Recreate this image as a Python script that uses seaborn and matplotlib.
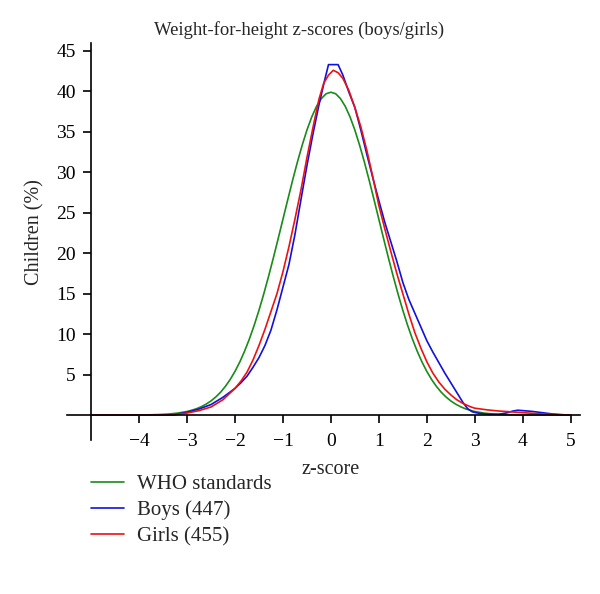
import numpy as np
import pandas as pd
import matplotlib
matplotlib.use("Agg")
import matplotlib.pyplot as plt
import seaborn as sns

# WHO standards
who_z = [-5, -4.0, -3.8, -3.6, -3.4, -3.2, -3.0, -2.9, -2.8, -2.7, -2.6, -2.5, -2.4, -2.3,
         -2.2, -2.1, -2.0, -1.9, -1.8, -1.7, -1.6, -1.5, -1.4, -1.3, -1.2, -1.1, -1.0,
         -0.9, -0.8, -0.7, -0.6, -0.5, -0.4, -0.3, -0.2, -0.1, 0.0,
         0.1, 0.2, 0.3, 0.4, 0.5, 0.6, 0.7, 0.8, 0.9, 1.0, 1.1, 1.2, 1.3, 1.4, 1.5,
         1.6, 1.7, 1.8, 1.9, 2.0, 2.1, 2.2, 2.3, 2.4, 2.5, 2.6, 2.7, 2.8, 2.9, 3.0,
         3.2, 3.4, 3.6, 3.8, 4.0, 5.0]
who_v = [0, 0.01, 0.03, 0.06, 0.12, 0.24, 0.44, 0.60, 0.79, 1.04, 1.36, 1.75, 2.24, 2.83,
         3.55, 4.40, 5.40, 6.56, 7.90, 9.40, 11.09, 12.95, 14.97, 17.14, 19.42, 21.79, 24.20,
         26.61, 28.97, 31.23, 33.32, 35.21, 36.83, 38.14, 39.10, 39.70, 39.89,
         39.70, 39.10, 38.14, 36.83, 35.21, 33.32, 31.23, 28.97, 26.61, 24.20, 21.79, 19.42,
         17.14, 14.97, 12.95, 11.09, 9.40, 7.90, 6.56, 5.40, 4.40, 3.55, 2.83, 2.24, 1.75,
         1.36, 1.04, 0.79, 0.60, 0.44, 0.24, 0.12, 0.06, 0.03, 0.01, 0]

# Boys (447)
boys_z = [-5, -4, -3.3, -3.0, -2.75, -2.5, -2.25, -2.0, -1.875, -1.75, -1.625, -1.5, -1.375,
          -1.25, -1.125, -1.0, -0.875, -0.75, -0.625, -0.5, -0.375, -0.25, -0.125, -0.05,
          0.15, 0.25, 0.375, 0.5, 0.625, 0.75, 0.875, 1.0, 1.125, 1.25, 1.375, 1.5, 1.625,
          1.75, 1.875, 2.0, 2.125, 2.25, 2.375, 2.5, 2.625, 2.75, 2.85, 2.95, 3.1, 3.3,
          3.5, 3.65, 3.8, 3.9, 4.0, 4.2, 4.4, 4.6, 4.8, 5.0]
boys_v = [0, 0, 0, 0.35, 0.75, 1.3, 2.2, 3.3, 4.0, 4.8, 5.9, 7.1, 8.6,
          10.5, 13.0, 15.8, 18.6, 22.3, 26.6, 30.8, 34.7, 38.3, 41.5, 43.3,
          43.3, 42.0, 39.9, 38.0, 35.2, 32.2, 29.3, 26.5, 23.8, 21.4, 19.0, 16.4, 14.3,
          12.6, 10.9, 9.2, 7.8, 6.5, 5.2, 4.0, 2.8, 1.6, 0.8, 0.4, 0.2, 0.1,
          0.1, 0.25, 0.5, 0.6, 0.55, 0.45, 0.3, 0.15, 0.05, 0]

# Girls (455)
girls_z = [-5, -4, -3.3, -3.0, -2.75, -2.5, -2.25, -2.0, -1.875, -1.75, -1.625, -1.5, -1.375,
           -1.25, -1.125, -1.0, -0.875, -0.75, -0.625, -0.5, -0.375, -0.25, -0.15, -0.05,
           0.05, 0.15, 0.25, 0.375, 0.5, 0.625, 0.75, 0.875, 1.0, 1.125, 1.25, 1.375, 1.5,
           1.625, 1.75, 1.875, 2.0, 2.125, 2.25, 2.375, 2.5, 2.625, 2.75, 2.9, 3.0, 3.25,
           3.5, 4.0, 4.5, 5.0]
girls_v = [0, 0, 0, 0.25, 0.55, 1.0, 1.9, 3.3, 4.2, 5.3, 6.8, 8.6, 10.6,
           12.8, 15.0, 17.7, 20.8, 24.2, 27.8, 31.8, 35.5, 39.0, 41.0, 42.0,
           42.6, 42.3, 41.6, 40.1, 38.0, 35.6, 32.7, 29.4, 25.9, 23.0, 20.2, 17.5, 15.0,
           12.5, 10.2, 8.3, 6.6, 5.2, 4.1, 3.2, 2.5, 1.9, 1.45, 1.05, 0.85, 0.65,
           0.5, 0.3, 0.1, 0]

series_names = ["WHO standards", "Boys (447)", "Girls (455)"]
colors = ["#1a8a1a", "#1010e0", "#ee1111"]

df = pd.concat([
    pd.DataFrame({"z": who_z, "v": who_v, "s": series_names[0]}),
    pd.DataFrame({"z": boys_z, "v": boys_v, "s": series_names[1]}),
    pd.DataFrame({"z": girls_z, "v": girls_v, "s": series_names[2]}),
], ignore_index=True)

sns.set_style("ticks")
plt.rcParams["font.family"] = ["Liberation Serif", "DejaVu Serif"]

fig = plt.figure(figsize=(6.0, 5.94), dpi=100)
ax = fig.add_axes([0.112, 0.259, 0.855, 0.669])

sns.lineplot(data=df, x="z", y="v", hue="s", palette=dict(zip(series_names, colors)),
             hue_order=series_names, ax=ax, linewidth=1.2, sort=False, estimator=None)

ax.set_xlim(-5.5, 5.2)
ax.set_ylim(-3.1, 46)
ax.spines["left"].set_position(("data", -5))
ax.spines["bottom"].set_position(("data", 0))
ax.spines["right"].set_visible(False)
ax.spines["top"].set_visible(False)
for sp in ["left", "bottom"]:
    ax.spines[sp].set_linewidth(1.2)
    ax.spines[sp].set_color("black")
ax.set_xticks([-4, -3, -2, -1, 0, 1, 2, 3, 4, 5])
ax.set_xticklabels(["\u22124", "\u22123", "\u22122", "\u22121", "0", "1", "2", "3", "4", "5"])
ax.set_yticks([5, 10, 15, 20, 25, 30, 35, 40, 45])
ax.tick_params(axis="both", direction="out", length=6, width=1.2, labelsize=14, colors="black")
ax.tick_params(axis="x", pad=7)
ax.tick_params(axis="y", pad=5)
ax.set_xlabel("")
ax.set_ylabel("")

fig.text(0.498, 0.949, "Weight-for-height z-scores (boys/girls)", ha="center", va="center",
         fontsize=13.4)
fig.text(0.551, 0.21, "z-score", ha="center", va="center", fontsize=14.5)
fig.text(0.058, 0.61, "Children (%)", ha="center", va="center", rotation=90, fontsize=14.5)

handles, labels = ax.get_legend_handles_labels()
if ax.legend_:
    ax.legend_.remove()
fig.legend(handles, labels, loc="upper left", bbox_to_anchor=(0.138, 0.215), frameon=False,
           fontsize=15, handlelength=1.6, handletextpad=0.6, labelspacing=0.3,
           borderaxespad=0)

fig.savefig("out.png", dpi=100, facecolor="white")
